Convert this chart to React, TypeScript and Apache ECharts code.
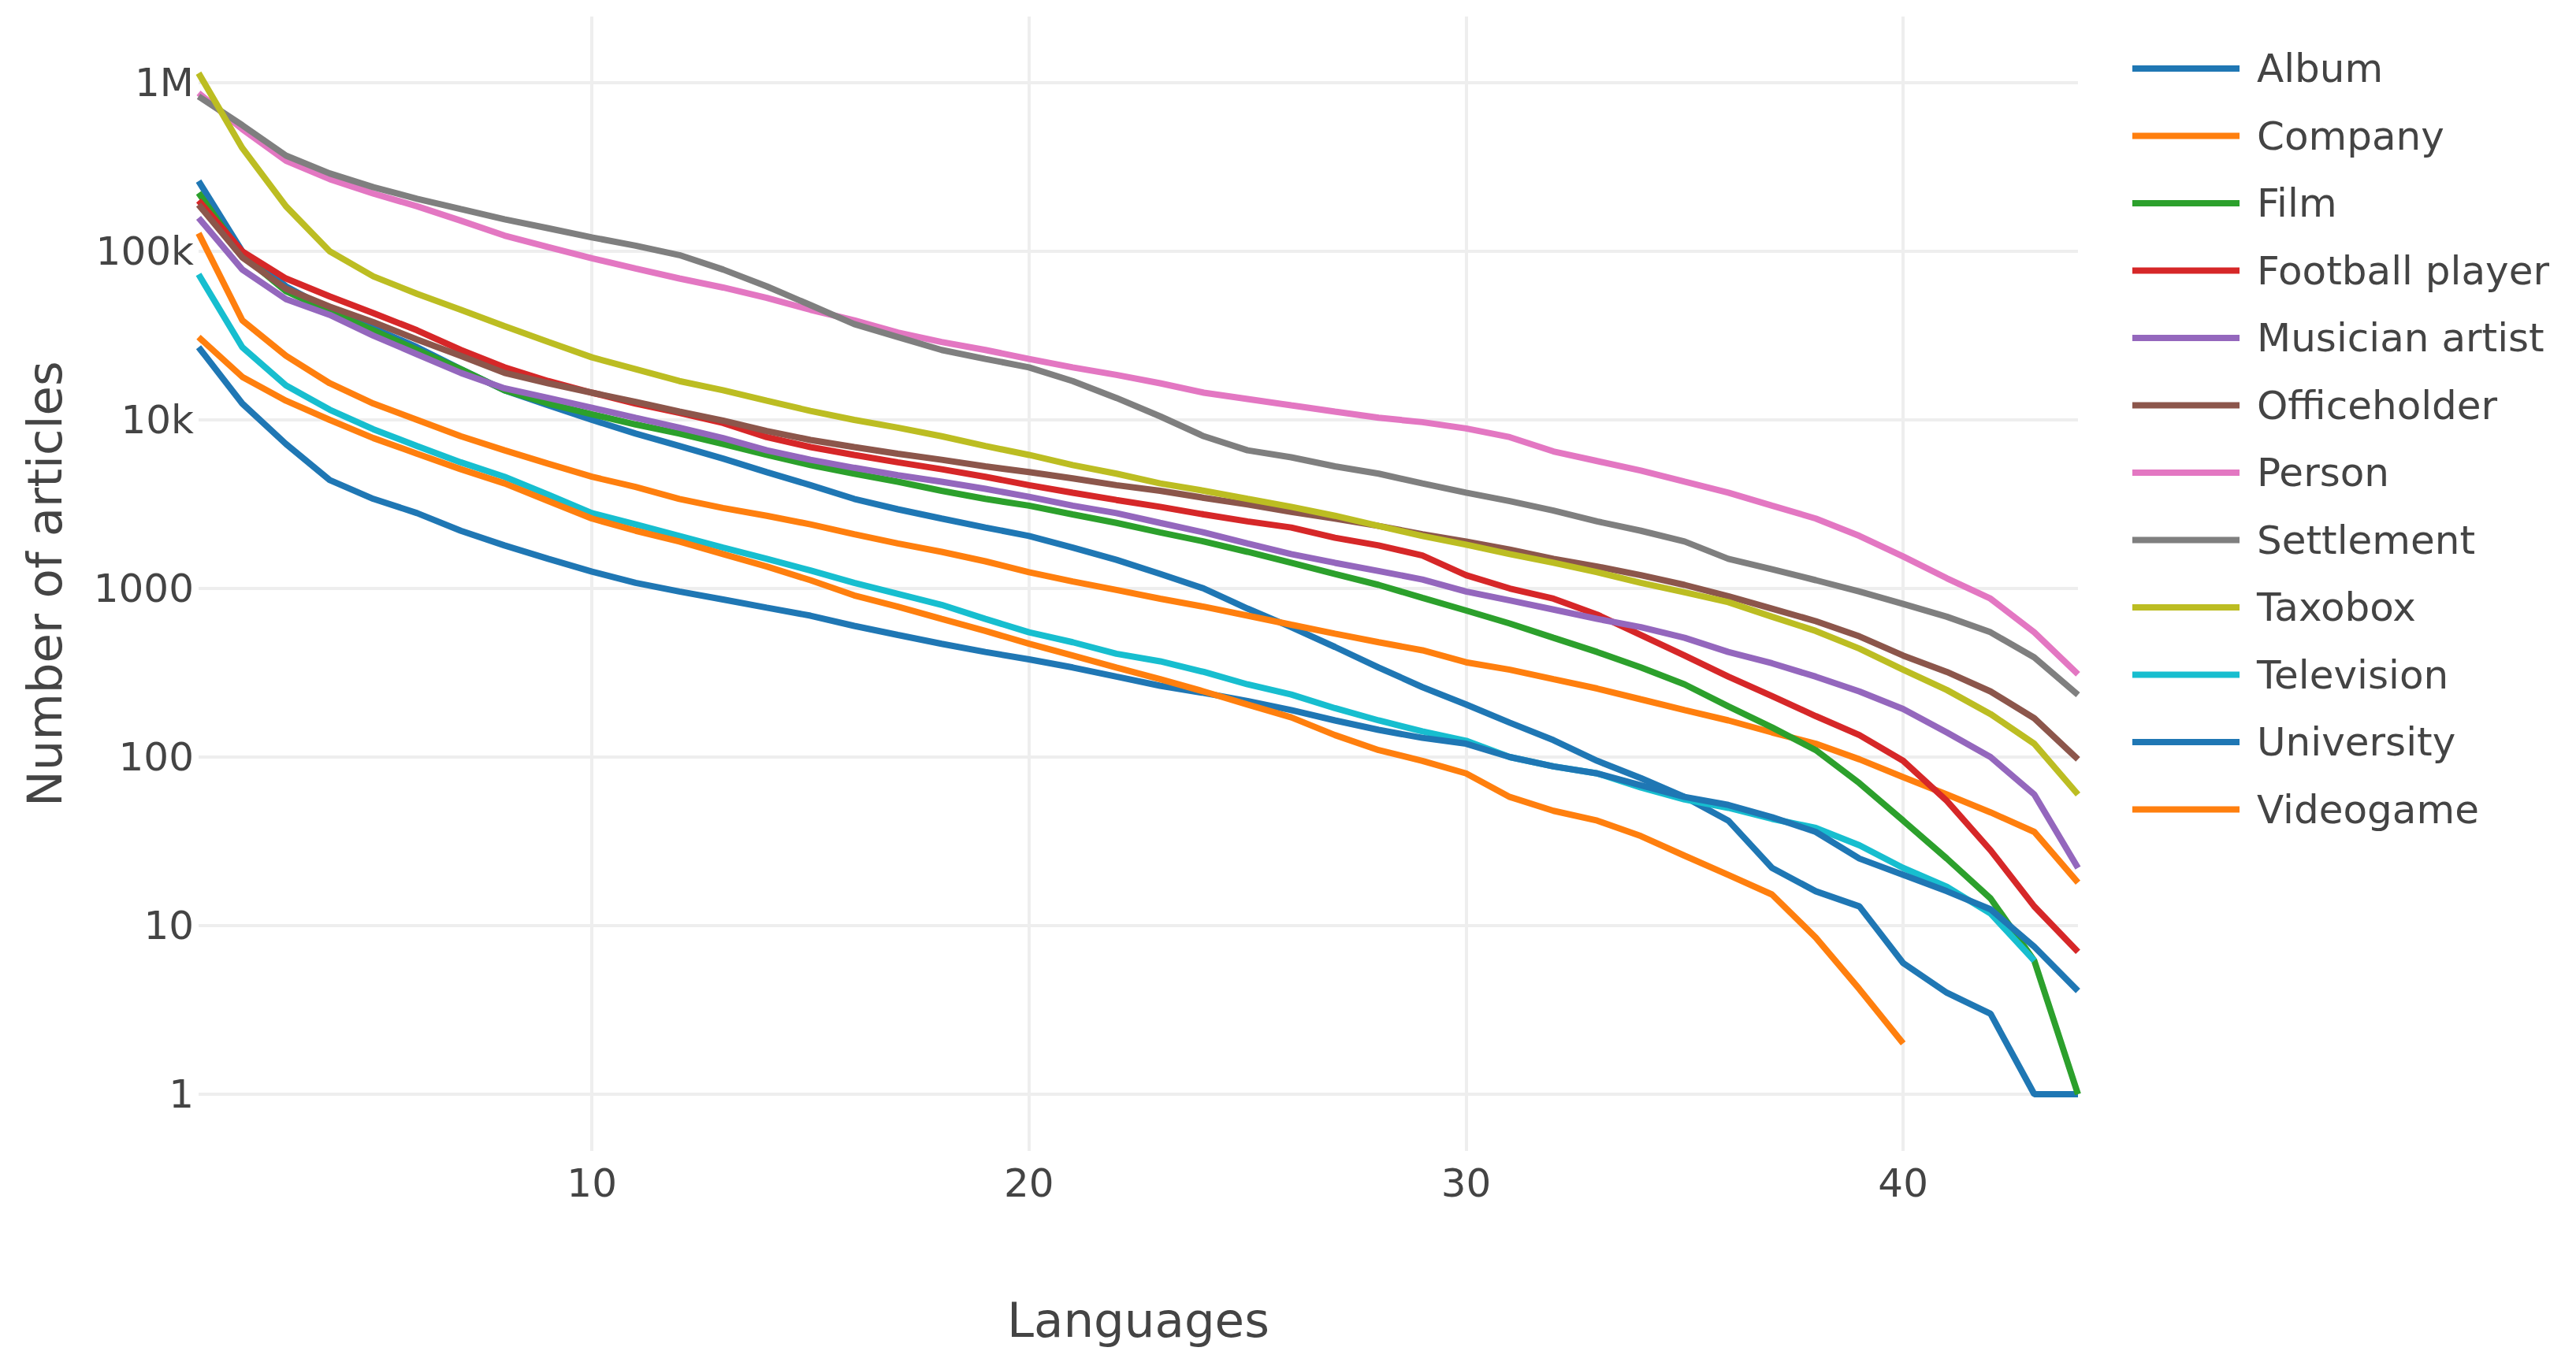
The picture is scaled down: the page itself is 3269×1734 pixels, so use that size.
import React, { useEffect, useRef } from "react";
import * as echarts from "echarts";

const languages = [
  1, 2, 3, 4, 5, 6, 7, 8, 9, 10, 11, 12, 13, 14, 15, 16, 17, 18, 19, 20, 21, 22,
  23, 24, 25, 26, 27, 28, 29, 30, 31, 32, 33, 34, 35, 36, 37, 38, 39, 40, 41, 42, 43, 44,
];

const seriesNames = [
  "Album", "Company", "Film", "Football player", "Musician artist", "Officeholder",
  "Person", "Settlement", "Taxobox", "Television", "University", "Videogame",
];

const seriesColors = [
  "#1f77b4", "#ff7f0e", "#2ca02c", "#d62728", "#9467bd", "#8c564b",
  "#e377c2", "#7f7f7f", "#bcbd22", "#17becf", "#1f77b4", "#ff7f0e",
];

const album = [261000, 100000, 62000, 45000, 35000, 27000, 20000, 15000, 12200, 10000, 8300, 7000, 5900, 4900, 4100, 3400, 2950, 2600, 2300, 2050, 1750, 1480, 1220, 1000, 760, 590, 450, 340, 260, 205, 160, 126, 95, 75, 58, 42, 22, 16, 13, 6, 4, 3, 1, 1];
const company = [128000, 39000, 24000, 16500, 12500, 10000, 8000, 6600, 5500, 4600, 4000, 3400, 3000, 2700, 2400, 2100, 1850, 1650, 1450, 1250, 1100, 980, 870, 780, 690, 610, 540, 480, 430, 365, 330, 290, 255, 220, 190, 165, 140, 120, 97, 76, 60, 47, 36, 18];
const film = [222000, 95000, 58000, 44000, 34000, 26000, 20000, 15000, 12500, 10800, 9400, 8300, 7200, 6200, 5400, 4800, 4300, 3800, 3400, 3100, 2750, 2450, 2150, 1900, 1650, 1420, 1220, 1050, 880, 740, 620, 510, 420, 340, 270, 200, 150, 110, 70, 42, 25, 14.5, 6.2, 1];
const footballPlayer = [200000, 100000, 69000, 54000, 43000, 34000, 26000, 20500, 17000, 14500, 12500, 11000, 9600, 7900, 6900, 6200, 5600, 5100, 4600, 4100, 3700, 3350, 3050, 2750, 2500, 2300, 2000, 1800, 1570, 1200, 1000, 870, 700, 530, 400, 300, 230, 175, 135, 95, 55, 28, 13, 7];
const musicianArtist = [158000, 78000, 52000, 42000, 31600, 24500, 19000, 15400, 13500, 11800, 10300, 9000, 7800, 6600, 5800, 5200, 4700, 4300, 3900, 3500, 3100, 2800, 2450, 2150, 1850, 1600, 1420, 1270, 1130, 960, 850, 750, 660, 590, 510, 420, 360, 300, 245, 193, 140, 100, 60, 22];
const officeholder = [189000, 92000, 60000, 47000, 38000, 30000, 24000, 19000, 16500, 14500, 12800, 11200, 9900, 8600, 7600, 6900, 6300, 5800, 5300, 4900, 4500, 4100, 3800, 3450, 3150, 2850, 2600, 2350, 2100, 1900, 1700, 1500, 1350, 1200, 1050, 900, 760, 640, 520, 400, 320, 245, 170, 97];
const person = [870000, 530000, 345000, 268000, 220000, 185000, 152000, 124000, 106000, 91000, 79000, 69000, 61000, 53000, 45000, 39000, 33000, 29000, 26000, 23000, 20500, 18500, 16500, 14500, 13300, 12200, 11200, 10300, 9700, 8900, 7900, 6500, 5700, 5000, 4300, 3700, 3100, 2600, 2050, 1550, 1150, 870, 550, 310];
const settlement = [830000, 560000, 370000, 290000, 240000, 205000, 178000, 155000, 137000, 121000, 108000, 95000, 78000, 62000, 48000, 37000, 31000, 26000, 23000, 20500, 17000, 13500, 10500, 8000, 6600, 6000, 5300, 4800, 4200, 3700, 3300, 2900, 2500, 2200, 1900, 1500, 1300, 1120, 960, 810, 680, 550, 390, 234];
const taxobox = [1140000, 410000, 185000, 100000, 71000, 56000, 45000, 36000, 29000, 23500, 20000, 17000, 15000, 13000, 11300, 10000, 9000, 8000, 7000, 6200, 5400, 4800, 4200, 3800, 3400, 3050, 2700, 2350, 2050, 1820, 1600, 1420, 1250, 1080, 950, 830, 680, 560, 440, 330, 250, 180, 120, 60];
const television = [73000, 27000, 16000, 11500, 8800, 7000, 5600, 4600, 3600, 2800, 2400, 2050, 1750, 1500, 1280, 1080, 930, 800, 660, 550, 480, 410, 370, 320, 270, 235, 195, 165, 142, 125, 100, 88, 80, 66, 56, 50, 43, 38, 30, 22, 17, 11.8, 6.2, null];
const university = [27000, 12500, 7200, 4400, 3400, 2800, 2200, 1800, 1500, 1260, 1080, 960, 860, 770, 690, 600, 530, 470, 420, 380, 340, 300, 265, 240, 215, 190, 165, 145, 130, 120, 100, 88, 80, 68, 58, 52, 44, 36, 25, 20, 16, 12.5, 7.5, 4.1];
const videogame = [31000, 18000, 13000, 10000, 7800, 6300, 5100, 4200, 3300, 2600, 2200, 1900, 1600, 1350, 1120, 910, 780, 660, 560, 470, 400, 340, 290, 245, 205, 172, 135, 110, 95, 80, 58, 48, 42, 34, 26, 20, 15.3, 8.5, 4.2, 2, null, null, null, null];

const seriesValues = [
  album, company, film, footballPlayer, musicianArtist, officeholder,
  person, settlement, taxobox, television, university, videogame,
];

const yTickValues = [1, 10, 100, 1000, 10000, 100000, 1000000];
const yTickLabels = ["1", "10", "100", "1000", "10k", "100k", "1M"];

const FONT = "DejaVu Sans";
const TEXT = "#444444";

export default function App() {
  const ref = useRef<HTMLDivElement>(null);

  useEffect(() => {
    if (!ref.current) return;
    const chart = echarts.init(ref.current, undefined, { renderer: "svg" });

    const series = seriesNames.map((name, i) => ({
      name,
      type: "line",
      symbol: "none",
      smooth: false,
      connectNulls: false,
      lineStyle: { width: 8, color: seriesColors[i] },
      itemStyle: { color: seriesColors[i] },
      emphasis: { disabled: true },
      data: languages
        .map((x, j) => [x, seriesValues[i][j]])
        .filter((p) => p[1] !== null && p[1] !== undefined),
    }));

    chart.setOption({
      animation: false,
      backgroundColor: "#ffffff",
      textStyle: { fontFamily: FONT, color: TEXT },
      grid: { left: 252, right: 632, top: 21, bottom: 273, containLabel: false },
      legend: {
        orient: "vertical",
        left: 2701,
        top: 57,
        padding: 5,
        icon: "rect",
        itemWidth: 136,
        itemHeight: 8,
        itemGap: 35.5,
        textStyle: { fontSize: 50, color: TEXT, fontFamily: FONT, padding: [0, 0, 0, 17] },
        data: seriesNames,
      },
      xAxis: {
        type: "value",
        min: 1,
        max: 44,
        name: "Languages",
        nameLocation: "middle",
        nameGap: 184,
        nameTextStyle: { fontSize: 61, color: TEXT, fontFamily: FONT },
        axisLine: { show: false },
        axisTick: { show: false },
        axisLabel: {
          fontSize: 50,
          color: TEXT,
          fontFamily: FONT,
          margin: 16,
          showMinLabel: false,
          showMaxLabel: false,
        },
        splitLine: {
          show: true,
          showMinLine: false,
          showMaxLine: false,
          lineStyle: { color: "#eeeeee", width: 4 },
        },
      },
      yAxis: {
        type: "log",
        logBase: 10,
        min: 0.461,
        max: 2470000,
        name: "Number of articles",
        nameLocation: "middle",
        nameGap: 165,
        nameTextStyle: { fontSize: 61, color: TEXT, fontFamily: FONT },
        axisLine: { show: false },
        axisTick: { show: false },
        axisLabel: {
          fontSize: 50,
          color: TEXT,
          fontFamily: FONT,
          margin: 6,
          showMinLabel: false,
          showMaxLabel: false,
          formatter: (v: number) => {
            const idx = yTickValues.findIndex(
              (t) => Math.abs(Math.log10(t) - Math.log10(v)) < 1e-6
            );
            return idx >= 0 ? yTickLabels[idx] : "";
          },
        },
        splitLine: {
          show: true,
          showMinLine: false,
          showMaxLine: false,
          lineStyle: { color: "#eeeeee", width: 4 },
        },
      },
      series,
    });

    return () => chart.dispose();
  }, []);

  return (
    <div
      ref={ref}
      style={{ position: "fixed", left: 0, top: 0, width: "3269px", height: "1734px" }}
    />
  );
}
